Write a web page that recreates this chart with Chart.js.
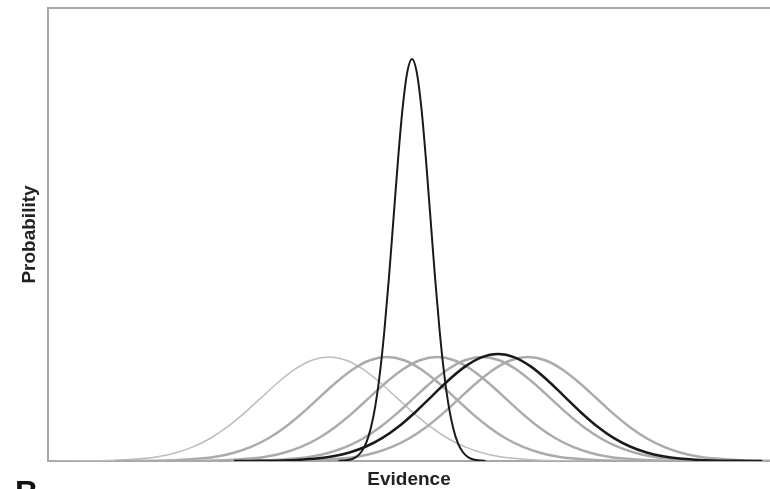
<!DOCTYPE html>
<html>
<head>
<meta charset="utf-8">
<script src="https://cdn.jsdelivr.net/npm/chart.js@4/dist/chart.umd.min.js"></script>
<style>
  html, body { margin: 0; padding: 0; background: #fff; }
  #wrap { width: 770px; height: 489px; }
</style>
</head>
<body>
<div id="wrap"><canvas id="chart"></canvas></div>
<script>
// evidence positions (px-like units from the left axis) and heights
const narrowX = [290.4, 295, 299.6, 304.2, 308.8, 313.4, 318, 322.6, 327.2, 331.8, 336.4, 341, 345.6, 350.2, 354.8, 359.4, 364,
                 368.6, 373.2, 377.8, 382.4, 387, 391.6, 396.2, 400.8, 405.4, 410, 414.6, 419.2, 423.8, 428.4, 433, 437.6];
const narrowY = [0.1, 0.4, 0.9, 2.0, 4.5, 9.2, 17.6, 32.0, 54.4, 87.0, 130.5, 184.0, 243.8, 303.4, 354.8, 389.6, 402,
                 389.6, 354.8, 303.4, 243.8, 184.0, 130.5, 87.0, 54.4, 32.0, 17.6, 9.2, 4.5, 2.0, 0.9, 0.4, 0.1];

const wideX = [186, 202.5, 219, 235.5, 252, 268.5, 285, 301.5, 318, 334.5, 351, 367.5, 384, 400.5, 417, 433.5, 450,
               466.5, 483, 499.5, 516, 532.5, 549, 565.5, 582, 598.5, 615, 631.5, 648, 664.5, 681, 697.5, 714];
const wideY = [0, 0.1, 0.2, 0.5, 1.2, 2.4, 4.7, 8.5, 14.5, 23.1, 34.7, 49.0, 64.9, 80.8, 94.4, 103.7, 107,
               103.7, 94.4, 80.8, 64.9, 49.0, 34.7, 23.1, 14.5, 8.5, 4.7, 2.4, 1.2, 0.5, 0.2, 0.1, 0];

const gray1X = [9, 26, 43, 60, 77, 94, 111, 128, 145, 162, 179, 196, 213, 230, 247, 264, 281,
                298, 315, 332, 349, 366, 383, 400, 417, 434, 451, 468, 485, 502, 519, 536, 553];
const gray2X = [67, 84, 101, 118, 135, 152, 169, 186, 203, 220, 237, 254, 271, 288, 305, 322, 339,
                356, 373, 390, 407, 424, 441, 458, 475, 492, 509, 526, 543, 560, 577, 594, 611];
const gray3X = [117, 134, 151, 168, 185, 202, 219, 236, 253, 270, 287, 304, 321, 338, 355, 372, 389,
                406, 423, 440, 457, 474, 491, 508, 525, 542, 559, 576, 593, 610, 627, 644, 661];
const gray4X = [162, 179, 196, 213, 230, 247, 264, 281, 298, 315, 332, 349, 366, 383, 400, 417, 434,
                451, 468, 485, 502, 519, 536, 553, 570, 587, 604, 621, 638, 655, 672, 689, 706];
const gray5X = [208, 225, 242, 259, 276, 293, 310, 327, 344, 361, 378, 395, 412, 429, 446, 463, 480,
                497, 514, 531, 548, 565, 582, 599, 616, 633, 650, 667, 684, 701, 718, 735, 752];
const grayY = [0, 0.1, 0.2, 0.5, 1.2, 2.4, 4.6, 8.3, 14.1, 22.5, 33.8, 47.6, 63.1, 78.5, 91.8, 100.8, 104,
               100.8, 91.8, 78.5, 63.1, 47.6, 33.8, 22.5, 14.1, 8.3, 4.6, 2.4, 1.2, 0.5, 0.2, 0.1, 0];

function pts(xs, ys) {
  return xs.map((x, i) => ({x: x, y: ys[i]}));
}

function curve(xs, ys, color, width) {
  return {
    data: pts(xs, ys),
    borderColor: color,
    borderWidth: width,
    pointRadius: 0,
    fill: false,
    cubicInterpolationMode: 'monotone'
  };
}

// cut-off panel letter at the bottom-left corner
const panelLetter = {
  id: 'panelLetter',
  afterDraw(chart) {
    const ctx = chart.ctx;
    ctx.save();
    ctx.fillStyle = '#111';
    ctx.font = 'bold 32px "Liberation Sans", Arial, sans-serif';
    ctx.textBaseline = 'top';
    ctx.fillText('B', 15, 478);
    ctx.restore();
  }
};

const axisGray = '#a8a8a8';
const ctx = document.getElementById('chart').getContext('2d');

new Chart(ctx, {
  type: 'line',
  data: {
    datasets: [
      curve(narrowX, narrowY, '#1a1a1a', 2),
      curve(wideX, wideY, '#1a1a1a', 2.5),
      curve(gray5X, grayY, '#ababab', 2.5),
      curve(gray4X, grayY, '#ababab', 2.5),
      curve(gray3X, grayY, '#ababab', 2.5),
      curve(gray2X, grayY, '#ababab', 2.5),
      curve(gray1X, grayY, '#bdbdbd', 1.5)
    ]
  },
  options: {
    responsive: true,
    maintainAspectRatio: false,
    animation: false,
    events: [],
    layout: {
      padding: {left: 20, top: 0, right: 0, bottom: 0}
    },
    scales: {
      x: {
        type: 'linear',
        min: 0,
        max: 722,
        grid: {display: false},
        ticks: {display: false},
        border: {display: true, color: axisGray, width: 2},
        title: {
          display: true,
          text: 'Evidence',
          color: '#222',
          font: {family: '"Liberation Sans", Arial, sans-serif', size: 19, weight: 'bold', lineHeight: 1},
          padding: {top: 1, bottom: 0}
        }
      },
      xTop: {
        type: 'linear',
        position: 'top',
        min: 0,
        max: 722,
        grid: {display: false},
        ticks: {display: false},
        border: {display: true, color: axisGray, width: 2}
      },
      y: {
        min: 0,
        max: 453,
        grid: {display: false},
        ticks: {display: false},
        border: {display: true, color: axisGray, width: 2},
        title: {
          display: true,
          text: 'Probability',
          color: '#222',
          font: {family: '"Liberation Sans", Arial, sans-serif', size: 19, weight: 'bold', lineHeight: 1},
          padding: {top: 0, bottom: 1}
        }
      }
    },
    plugins: {
      legend: {display: false},
      tooltip: {enabled: false}
    }
  },
  plugins: [panelLetter]
});
</script>
</body>
</html>
